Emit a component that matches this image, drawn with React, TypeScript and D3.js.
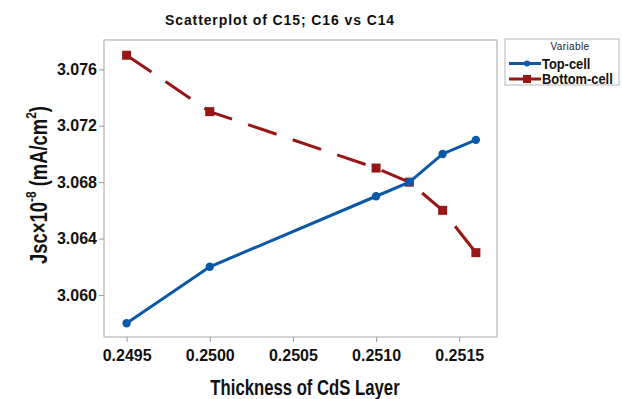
import { useEffect, useRef } from 'react';
import * as d3 from 'd3';

const thickness = [0.2495, 0.25, 0.251, 0.2512, 0.2514, 0.2516];
const topCell = [3.058, 3.062, 3.067, 3.068, 3.07, 3.071];
const bottomCell = [3.077, 3.073, 3.069, 3.068, 3.066, 3.063];
const xTicks = [0.2495, 0.25, 0.2505, 0.251, 0.2515];
const yTicks = [3.06, 3.064, 3.068, 3.072, 3.076];

const BLUE = '#0a58a8';
const RED = '#981616';
const FONT = "'Liberation Sans', Arial, sans-serif";

export default function App() {
  const ref = useRef<SVGSVGElement | null>(null);

  useEffect(() => {
    const svg = d3.select(ref.current);
    svg.selectAll('*').remove();

    const frame = { left: 104, top: 40, right: 497, bottom: 337 };
    const x = d3.scaleLinear().domain([0.249364, 0.251727]).range([frame.left, frame.right]);
    const y = d3.scaleLinear().domain([3.05702, 3.07808]).range([frame.bottom, frame.top]);

    svg.append('rect').attr('width', 622).attr('height', 399).attr('fill', '#fff');

    // title
    svg
      .append('text')
      .attr('x', 280)
      .attr('y', 25)
      .attr('text-anchor', 'middle')
      .style('font-family', FONT)
      .style('font-weight', 'bold')
      .style('font-size', '14px')
      .style('letter-spacing', '0.9px')
      .attr('fill', '#111')
      .text('Scatterplot of C15; C16 vs C14');

    // frame
    svg
      .append('rect')
      .attr('x', frame.left)
      .attr('y', frame.top)
      .attr('width', frame.right - frame.left)
      .attr('height', frame.bottom - frame.top)
      .attr('fill', 'none')
      .attr('stroke', '#b5b5b5')
      .attr('stroke-width', 1.2);

    const xAxis = svg
      .append('g')
      .attr('transform', `translate(0,${frame.bottom})`)
      .call(d3.axisBottom(x).tickValues(xTicks).tickFormat(d3.format('.4f')).tickSize(5).tickPadding(8));
    xAxis.select('.domain').remove();
    xAxis.selectAll('line').attr('stroke', '#999');
    xAxis
      .selectAll('text')
      .style('font-family', FONT)
      .style('font-size', '16px')
      .style('font-weight', 'bold')
      .attr('fill', '#111');

    const yAxis = svg
      .append('g')
      .attr('transform', `translate(${frame.left},0)`)
      .call(d3.axisLeft(y).tickValues(yTicks).tickFormat(d3.format('.3f')).tickSize(5).tickPadding(2));
    yAxis.select('.domain').remove();
    yAxis.selectAll('line').attr('stroke', '#999');
    yAxis
      .selectAll('text')
      .style('font-family', FONT)
      .style('font-size', '16px')
      .style('font-weight', 'bold')
      .attr('fill', '#111');

    // axis titles (condensed horizontally)
    svg
      .append('text')
      .attr('transform', 'translate(305,395) scale(0.76,1)')
      .attr('text-anchor', 'middle')
      .style('font-family', FONT)
      .style('font-size', '22px')
      .style('font-weight', 'bold')
      .attr('fill', '#111')
      .text('Thickness of CdS Layer');

    const yt = svg
      .append('text')
      .attr('transform', 'translate(47,185) rotate(-90) scale(0.8,1)')
      .attr('text-anchor', 'middle')
      .style('font-family', FONT)
      .style('font-size', '23px')
      .style('font-weight', 'bold')
      .attr('fill', '#111');
    yt.append('tspan').text('Jsc×10');
    yt.append('tspan').attr('dy', -11).style('font-size', '15px').text('-8');
    yt.append('tspan').attr('dy', 11).text(' (mA/cm');
    yt.append('tspan').attr('dy', -11).style('font-size', '15px').text('2');
    yt.append('tspan').attr('dy', 11).text(')');

    const pts = (vals: number[]) => thickness.map((t, i) => [x(t), y(vals[i])] as [number, number]);
    const line = d3.line();

    // bottom-cell dashed
    svg
      .append('path')
      .attr('d', line(pts(bottomCell)))
      .attr('fill', 'none')
      .attr('stroke', RED)
      .attr('stroke-width', 3)
      .attr('stroke-dasharray', '30 17');
    svg
      .selectAll('rect.bm')
      .data(pts(bottomCell))
      .join('rect')
      .attr('class', 'bm')
      .attr('x', (d) => d[0] - 4.5)
      .attr('y', (d) => d[1] - 4.5)
      .attr('width', 9)
      .attr('height', 9)
      .attr('fill', RED);

    // top-cell solid
    svg
      .append('path')
      .attr('d', line(pts(topCell)))
      .attr('fill', 'none')
      .attr('stroke', BLUE)
      .attr('stroke-width', 3);
    svg
      .selectAll('circle.tm')
      .data(pts(topCell))
      .join('circle')
      .attr('class', 'tm')
      .attr('cx', (d) => d[0])
      .attr('cy', (d) => d[1])
      .attr('r', 4.2)
      .attr('fill', BLUE);

    // legend
    const lg = svg.append('g');
    lg.append('rect')
      .attr('x', 505)
      .attr('y', 39)
      .attr('width', 114)
      .attr('height', 46)
      .attr('fill', '#fff')
      .attr('stroke', '#b5b5b5');
    lg.append('text')
      .attr('x', 570)
      .attr('y', 50)
      .attr('text-anchor', 'middle')
      .style('font-family', FONT)
      .style('font-size', '10px')
      .style('letter-spacing', '0.4px')
      .attr('fill', '#222')
      .text('Variable');
    const items = [
      { name: 'Top-cell', color: BLUE, shape: 'circle' },
      { name: 'Bottom-cell', color: RED, shape: 'square' },
    ];
    items.forEach((it, i) => {
      const cy = 63.5 + i * 15.5;
      lg.append('line')
        .attr('x1', 509)
        .attr('x2', 541)
        .attr('y1', cy)
        .attr('y2', cy)
        .attr('stroke', it.color)
        .attr('stroke-width', 3);
      if (it.shape === 'circle') {
        lg.append('circle').attr('cx', 527).attr('cy', cy).attr('r', 3).attr('fill', it.color);
      } else {
        lg.append('rect').attr('x', 523).attr('y', cy - 4).attr('width', 8).attr('height', 8).attr('fill', it.color);
      }
      lg.append('text')
        .attr('transform', `translate(542,${cy + 5}) scale(0.92,1)`)
        .style('font-family', FONT)
        .style('font-size', '14px')
        .style('font-weight', 'bold')
        .attr('fill', '#111')
        .text(it.name);
    });
  }, []);

  return (
    <svg
      ref={ref}
      width={622}
      height={399}
      style={{ position: 'absolute', left: 0, top: 0, display: 'block' }}
    />
  );
}
